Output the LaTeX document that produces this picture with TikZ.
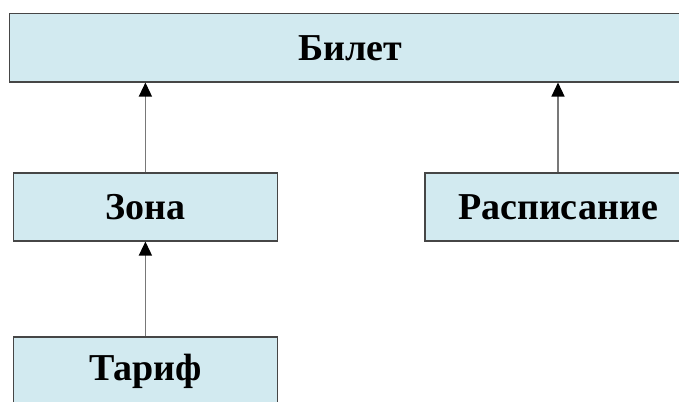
\documentclass[tikz,border=0pt]{standalone}
\usepackage{fontspec}
\setmainfont{Liberation Serif}
\usetikzlibrary{arrows.meta}
\definecolor{boxfill}{RGB}{210,234,240}
\definecolor{boxline}{RGB}{70,70,70}
\definecolor{arrline}{RGB}{120,120,120}
\begin{document}
\begin{tikzpicture}[x=1pt,y=-1pt,
  box/.style={draw=boxline, line width=1.1pt, fill=boxfill, inner sep=0pt,
    minimum height=68pt, font=\fontsize{38}{40}\selectfont\bfseries, text=black},
  arr/.style={draw=arrline, line width=1.4pt,
    -{Triangle[width=13pt,length=14pt,color=black]}}]
\useasboundingbox (0,0) rectangle (679,401);
\clip (0,0) rectangle (679,401);
\fill[white] (0,0) rectangle (679,401);
\node[box, minimum width=681.5pt, minimum height=68.5pt] (bilet) at (350.25,47.75) {Билет};
\node[box, minimum width=263.5pt] (zona) at (145.4,207) {Зона};
\node[box, minimum width=266pt] (rasp) at (558,207) {Расписание};
\node[box, minimum width=263.5pt] (tarif) at (145.4,371) {Тариф};
\draw[arr] (zona.north) -- (zona.north |- bilet.south);
\draw[arr] (rasp.north) -- (rasp.north |- bilet.south);
\draw[arr] (tarif.north) -- (tarif.north |- zona.south);
\end{tikzpicture}
\end{document}
